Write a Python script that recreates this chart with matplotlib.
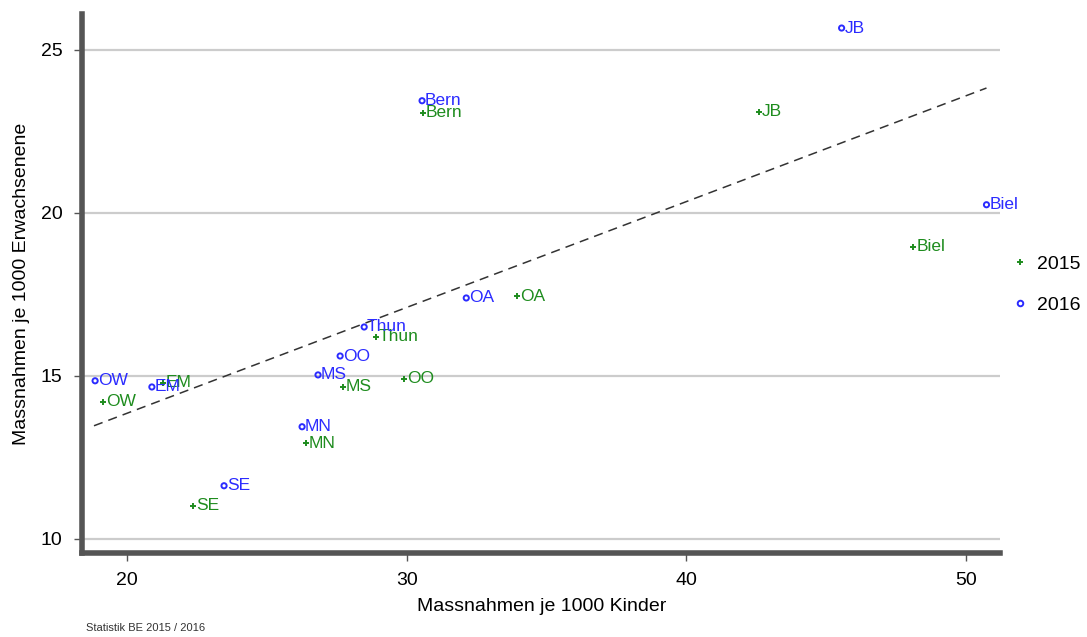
import matplotlib
matplotlib.use("Agg")
import matplotlib.pyplot as plt
from matplotlib.lines import Line2D

plt.rcParams['font.family'] = ['Liberation Sans', 'DejaVu Sans']

# Regionen (Verwaltungskreise)
labels = ['JB', 'Bern', 'Biel', 'OA', 'Thun', 'OO', 'MS', 'OW', 'EM', 'MN', 'SE']

# Massnahmen je 1000 Kinder / Erwachsene
kinder_2016 = [45.55, 30.55, 50.73, 32.13, 28.48, 27.62, 26.83, 18.86, 20.89, 26.26, 23.47]
erw_2016 = [25.67, 23.44, 20.25, 17.39, 16.50, 15.61, 15.03, 14.85, 14.66, 13.44, 11.63]

kinder_2015 = [42.61, 30.59, 48.12, 33.95, 28.91, 29.91, 27.73, 19.14, 21.29, 26.40, 22.36]
erw_2015 = [23.10, 23.07, 18.96, 17.45, 16.20, 14.91, 14.66, 14.20, 14.79, 12.94, 11.01]

# Trendlinie (Endpunkte)
fit_x = [18.82, 50.73]
fit_y = [13.47, 23.83]

c15 = '#1e8c1e'
c16 = '#2b2bff'

fig = plt.figure(figsize=(10.87, 6.37), dpi=100)
ax = fig.add_axes([0.0754, 0.132, 0.845, 0.846])

ax.set_xlim(18.39, 51.23)
ax.set_ylim(9.57, 26.1)

for y in [10, 15, 20, 25]:
    ax.axhline(y, color='#cccccc', lw=1.6, zorder=0)

ax.plot(fit_x, fit_y, color='#333333', lw=1.1, dashes=(6, 4), zorder=1)

ax.scatter(kinder_2015, erw_2015, marker='+', s=22, color=c15, linewidths=1.4, zorder=3)
ax.scatter(kinder_2016, erw_2016, marker='o', s=14, facecolors='none',
           edgecolors=c16, linewidths=1.4, zorder=3)

for x, y, t in zip(kinder_2015, erw_2015, labels):
    ax.annotate(t, (x, y), xytext=(2, 0), textcoords='offset points',
                va='center', ha='left', color=c15, fontsize=12.5)
for x, y, t in zip(kinder_2016, erw_2016, labels):
    ax.annotate(t, (x, y), xytext=(2, 0), textcoords='offset points',
                va='center', ha='left', color=c16, fontsize=12.5)

ax.set_xticks([20, 30, 40, 50])
ax.set_yticks([10, 15, 20, 25])
ax.tick_params(axis='both', labelsize=14, length=6, width=1, color='#555555', pad=8)

for s in ['top', 'right']:
    ax.spines[s].set_visible(False)
for s in ['left', 'bottom']:
    ax.spines[s].set_linewidth(4)
    ax.spines[s].set_color('#555555')

ax.set_xlabel('Massnahmen je 1000 Kinder', fontsize=14, labelpad=6)
ax.set_ylabel('Massnahmen je 1000 Erwachsenene', fontsize=14, labelpad=8)

handles = [
    Line2D([], [], marker='+', ls='none', color=c15, markersize=5, markeredgewidth=1.4, label='2015'),
    Line2D([], [], marker='o', ls='none', color=c16, markerfacecolor='none',
           markersize=4, markeredgewidth=1.4, label='2016'),
]
fig.legend(handles=handles, loc='center left', bbox_to_anchor=(0.929, 0.553),
           frameon=False, fontsize=14, handletextpad=0.39, labelspacing=1.2,
           handlelength=1.0, borderpad=0, borderaxespad=0)

fig.text(0.079, 0.01, 'Statistik BE 2015 / 2016', fontsize=8, color='#333333')

fig.savefig('out.png', dpi=100)
